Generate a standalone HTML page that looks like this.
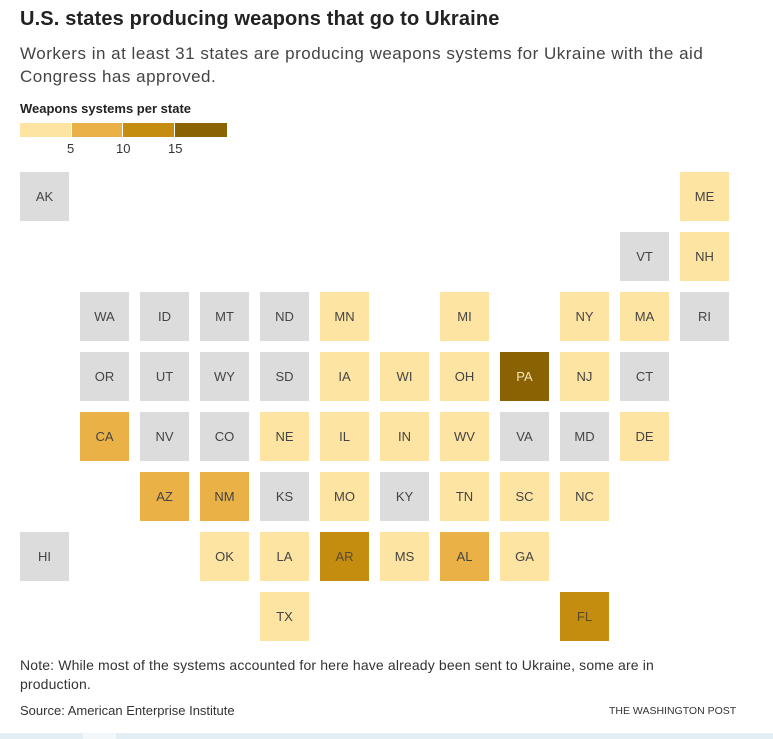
<!DOCTYPE html>
<html><head><meta charset="utf-8"><style>
body{margin:0;width:773px;height:739px;background:#fff;position:relative;overflow:hidden;font-family:"Liberation Sans",sans-serif;}
.t{position:absolute;white-space:nowrap;}
.c{position:absolute;width:49px;height:49px;display:flex;align-items:center;justify-content:center;font-size:13px;color:#444;}
.g{background:#dcdcdc}.l{background:#fde4a2}.m{background:#e9b146}.d{background:#c48d10;color:#5a4a2a}.x{background:#8b6203;color:#f3e3b8}
</style></head><body>
<div class="t" style="left:20px;top:8px;font-size:20px;letter-spacing:0.15px;font-weight:bold;color:#222;">U.S. states producing weapons that go to Ukraine</div>
<div class="t" style="left:20px;top:42px;font-size:17px;letter-spacing:0.5px;color:#444;line-height:23px;">Workers in at least 31 states are producing weapons systems for Ukraine with the aid<br>Congress has approved.</div>
<div class="t" style="left:20px;top:101px;font-size:13px;font-weight:bold;color:#222;">Weapons systems per state</div>
<div style="position:absolute;left:20px;top:123px;width:51px;height:14px;background:#fde4a2"></div>
<div style="position:absolute;left:72px;top:123px;width:50px;height:14px;background:#e9b146"></div>
<div style="position:absolute;left:123px;top:123px;width:51px;height:14px;background:#c48d10"></div>
<div style="position:absolute;left:175px;top:123px;width:52px;height:14px;background:#8b6203"></div>
<div class="t" style="left:67px;top:141px;font-size:13px;color:#333;">5</div>
<div class="t" style="left:116px;top:141px;font-size:13px;color:#333;">10</div>
<div class="t" style="left:168px;top:141px;font-size:13px;color:#333;">15</div>

<div class="c g" style="left:20px;top:172px">AK</div>
<div class="c l" style="left:680px;top:172px">ME</div>
<div class="c g" style="left:620px;top:232px">VT</div>
<div class="c l" style="left:680px;top:232px">NH</div>

<div class="c g" style="left:80px;top:292px">WA</div>
<div class="c g" style="left:140px;top:292px">ID</div>
<div class="c g" style="left:200px;top:292px">MT</div>
<div class="c g" style="left:260px;top:292px">ND</div>
<div class="c l" style="left:320px;top:292px">MN</div>
<div class="c l" style="left:440px;top:292px">MI</div>
<div class="c l" style="left:560px;top:292px">NY</div>
<div class="c l" style="left:620px;top:292px">MA</div>
<div class="c g" style="left:680px;top:292px">RI</div>

<div class="c g" style="left:80px;top:352px">OR</div>
<div class="c g" style="left:140px;top:352px">UT</div>
<div class="c g" style="left:200px;top:352px">WY</div>
<div class="c g" style="left:260px;top:352px">SD</div>
<div class="c l" style="left:320px;top:352px">IA</div>
<div class="c l" style="left:380px;top:352px">WI</div>
<div class="c l" style="left:440px;top:352px">OH</div>
<div class="c x" style="left:500px;top:352px">PA</div>
<div class="c l" style="left:560px;top:352px">NJ</div>
<div class="c g" style="left:620px;top:352px">CT</div>

<div class="c m" style="left:80px;top:412px">CA</div>
<div class="c g" style="left:140px;top:412px">NV</div>
<div class="c g" style="left:200px;top:412px">CO</div>
<div class="c l" style="left:260px;top:412px">NE</div>
<div class="c l" style="left:320px;top:412px">IL</div>
<div class="c l" style="left:380px;top:412px">IN</div>
<div class="c l" style="left:440px;top:412px">WV</div>
<div class="c g" style="left:500px;top:412px">VA</div>
<div class="c g" style="left:560px;top:412px">MD</div>
<div class="c l" style="left:620px;top:412px">DE</div>

<div class="c m" style="left:140px;top:472px">AZ</div>
<div class="c m" style="left:200px;top:472px">NM</div>
<div class="c g" style="left:260px;top:472px">KS</div>
<div class="c l" style="left:320px;top:472px">MO</div>
<div class="c g" style="left:380px;top:472px">KY</div>
<div class="c l" style="left:440px;top:472px">TN</div>
<div class="c l" style="left:500px;top:472px">SC</div>
<div class="c l" style="left:560px;top:472px">NC</div>

<div class="c g" style="left:20px;top:532px">HI</div>
<div class="c l" style="left:200px;top:532px">OK</div>
<div class="c l" style="left:260px;top:532px">LA</div>
<div class="c d" style="left:320px;top:532px">AR</div>
<div class="c l" style="left:380px;top:532px">MS</div>
<div class="c m" style="left:440px;top:532px">AL</div>
<div class="c l" style="left:500px;top:532px">GA</div>

<div class="c l" style="left:260px;top:592px">TX</div>
<div class="c d" style="left:560px;top:592px">FL</div>

<div class="t" style="left:20px;top:656px;font-size:14px;letter-spacing:0.15px;color:#333;line-height:19px;">Note: While most of the systems accounted for here have already been sent to Ukraine, some are in<br>production.</div>
<div class="t" style="left:20px;top:703px;font-size:13px;color:#333;">Source: American Enterprise Institute</div>
<div class="t" style="left:609px;top:705px;font-size:10.5px;color:#333;">THE WASHINGTON POST</div>
<div style="position:absolute;left:0;top:733px;width:773px;height:6px;background:#e3eef4"></div>
<div style="position:absolute;left:83px;top:733px;width:33px;height:6px;background:#f2f7fa"></div>
</body></html>
